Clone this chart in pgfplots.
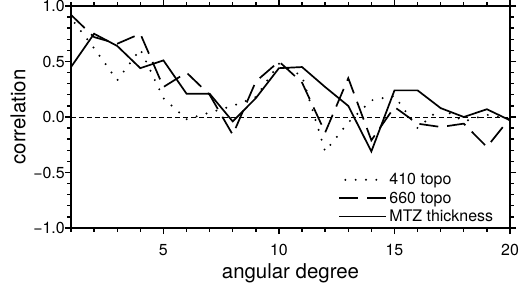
\documentclass[border=0pt]{standalone}
\usepackage{fontspec}
\setmainfont{TeX Gyre Heros}
\usepackage{pgfplots}
\pgfplotsset{compat=1.18}
\usepackage{pgfplotstable}
\pgfplotstableread{
d    t410   t660   mtz
1    0.89   0.92   0.45
2    0.62   0.72   0.75
3    0.33   0.66   0.64
4    0.61   0.75   0.44
5    0.17   0.27   0.51
6   -0.02   0.40   0.21
7    0.04   0.20   0.21
8    0.10  -0.16  -0.04
9    0.18   0.32   0.17
10   0.48   0.50   0.44
11   0.37   0.31   0.45
12  -0.31  -0.14   0.27
13  -0.05   0.35   0.10
14   0.15  -0.21  -0.31
15   0.19   0.09   0.24
16  -0.10  -0.06   0.24
17   0.08  -0.09   0.08
18  -0.04  -0.06   0.00
19   0.02  -0.27   0.07
20  -0.02  -0.01  -0.03
}\datatable
\begin{document}
\begin{tikzpicture}
\begin{axis}[
  name=main,
  scale only axis,
  width=439bp, height=222bp,
  xmin=1, xmax=20, ymin=-1, ymax=1,
  xtick={5,10,15,20},
  minor xtick={1,2,...,20},
  ytick={-1,-0.5,0,0.5,1},
  yticklabels={−1.0,−0.5,0.0,0.5,1.0},
  minor ytick={-1,-0.9,...,1},
  tick pos=both,
  xticklabel pos=lower,
  yticklabel pos=left,
  tick align=outside,
  major tick length=6bp,
  minor tick length=3.5bp,
  every tick/.append style={black, line width=1.4bp},
  every axis/.append style={line width=1.8bp},
  ticklabel style={font=\fontsize{16}{18}\selectfont},
  xticklabel style={yshift=-6bp},
  yticklabel style={xshift=4bp},
  /pgf/number format/assume math mode=true,
  xlabel={angular degree},
  ylabel={correlation},
  label style={font=\fontsize{20.5}{22}\selectfont},
  legend cell align=left,
  legend style={draw=none, fill=none, at={(1,0)}, anchor=south east,
    xshift=-12bp, yshift=0bp, font=\fontsize{16}{17}\selectfont,
    row sep=1.5bp, inner sep=2bp},
  legend image code/.code={\draw[#1] (0bp,0bp) -- (47bp,0bp);},
]
\addplot[black, line width=0.8bp, dash pattern=on 5bp off 3bp, forget plot] coordinates {(1,0) (20,0)};
\addplot[black, line width=2.2bp, line cap=round, dash pattern=on 0bp off 10.3bp, dash phase=-6bp, forget plot] table[x=d, y=t410] {\datatable};
\addplot[black, line width=1.7bp, dash pattern=on 19bp off 9bp, forget plot] table[x=d, y=t660] {\datatable};
\addplot[black, line width=1.7bp, forget plot] table[x=d, y=mtz] {\datatable};
\addlegendimage{black, line width=2.2bp, line cap=round, dash pattern=on 0bp off 10.3bp, dash phase=-6bp}
\addlegendentry{410 topo}
\addlegendimage{black, line width=1.7bp, dash pattern=on 19bp off 9bp}
\addlegendentry{660 topo}
\addlegendimage{black, line width=1.7bp}
\addlegendentry{MTZ thickness}
\end{axis}
\pgfresetboundingbox
\path[use as bounding box] ([xshift=-71bp,yshift=-57bp]main.south west) rectangle ([xshift=10bp,yshift=6bp]main.north east);
\end{tikzpicture}
\end{document}
